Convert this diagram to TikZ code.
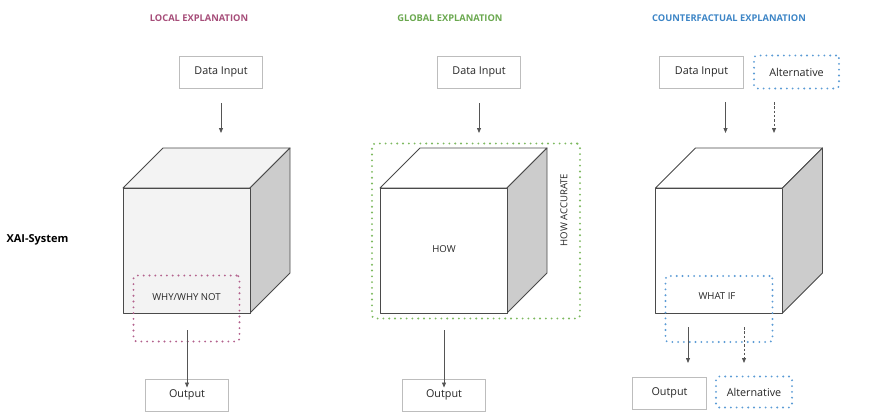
\documentclass[tikz,border=0pt]{standalone}
\usepackage{fontspec}
\setmainfont{Open Sans}
\usetikzlibrary{arrows.meta}
\definecolor{localc}{HTML}{A64D79}
\definecolor{globalc}{HTML}{6AA84F}
\definecolor{cfc}{HTML}{3D85C6}
\definecolor{localdot}{HTML}{B3628D}
\definecolor{globaldot}{HTML}{7DB95F}
\definecolor{cfdot}{HTML}{5B9BD5}
\definecolor{boxline}{HTML}{BDBDBD}
\definecolor{arrowc}{HTML}{555555}
\definecolor{edgec}{HTML}{4A4A4A}
\definecolor{frontgrey}{HTML}{F3F3F3}
\definecolor{sidegrey}{HTML}{CCCCCC}
\tikzset{
  databox/.style={draw=boxline, line width=0.9pt, minimum width=#1, minimum height=32pt, inner sep=0pt, font=\fontsize{10.8}{12}\selectfont, text=black!85},
  databox/.default=83pt,
  dotbox/.style={draw=#1, line width=2.1pt, dash pattern=on 0pt off 5.8pt, line cap=round, rounded corners=3pt},
  title/.style={font=\fontsize{9.3}{11}\selectfont\bfseries},
  lbl/.style={font=\fontsize{9.6}{11}\selectfont, text=black!85},
  arr/.style={draw=arrowc, line width=0.75pt, -{Triangle[length=5pt,width=4pt]}},
  darr/.style={arr, dash pattern=on 2.5pt off 1.8pt},
  face/.style={draw=edgec, line width=0.9pt, line join=round},
}
\newcommand{\mycube}[4]{%
  \filldraw[face, fill=#3] (#1,188) -- ++(40,-40) -- ++(127,0) -- ++(-40,40) -- cycle;
  \filldraw[face, fill=#4] (#1+127,188) -- ++(40,-40) -- ++(0,125) -- ++(-40,40) -- cycle;
  \filldraw[face, fill=#2] (#1,188) rectangle (#1+127,313);
}
\begin{document}
\begin{tikzpicture}[x=1pt,y=-1pt]
\useasboundingbox (0,0) rectangle (874,418);

% titles
\node[title, text=localc] (t1) at (199,18) {LOCAL EXPLANATION};
\node[title, text=globalc] (t2) at (450,18) {GLOBAL EXPLANATION};
\node[title, text=cfc] (t3) at (729,18) {COUNTERFACTUAL EXPLANATION};
\node[anchor=west, font=\fontsize{11}{13}\selectfont\bfseries] (xai) at (3,240) {XAI-System};

% ---- local
\mycube{123}{frontgrey}{frontgrey}{sidegrey}
\node[databox] (in1) at (221,72) {Data Input};
\coordinate (c1top) at (221,133);
\draw[arr] ([yshift=-15pt]in1.south) -- (c1top);
\node[dotbox=localdot, minimum width=106pt, minimum height=66pt] (why) at (186.5,308.5) {};
\node[lbl] (whyt) at (186.5,297) {WHY/WHY NOT};
\node[databox] (out1) at (187,395) {Output};
\coordinate (o1s) at (187,330);
\draw[arr] (o1s) -- ([yshift=-9pt]out1.north);

% ---- global
\mycube{380}{white}{white}{sidegrey}
\node[databox] (in2) at (479,72) {Data Input};
\coordinate (c2top) at (479,133);
\draw[arr] ([yshift=-15pt]in2.south) -- (c2top);
\node[dotbox=globaldot, minimum width=208pt, minimum height=175pt] (howbox) at (476,231) {};
\node[lbl] (how) at (444,249) {HOW};
\node[lbl, rotate=90] (howacc) at (564,210) {HOW ACCURATE};
\node[databox] (out2) at (444,395) {Output};
\coordinate (o2s) at (444,330);
\draw[arr] (o2s) -- ([yshift=-9pt]out2.north);

% ---- counterfactual
\mycube{655.5}{white}{white}{sidegrey}
\node[databox=84pt] (in3) at (701.5,72) {Data Input};
\node[dotbox=cfdot, minimum width=85pt, minimum height=33pt, font=\fontsize{10.8}{12}\selectfont, text=black!85] (alt1) at (796.5,72) {Alternative};
\coordinate (c3a) at (725.5,133);
\coordinate (c3b) at (774,133);
\draw[arr] (c3a |- 0,102) -- (c3a);
\draw[darr] (c3b |- 0,102) -- (c3b);
\node[dotbox=cfdot, minimum width=107pt, minimum height=66pt] (whatif) at (719,309) {};
\node[lbl] (whatift) at (717,296) {WHAT IF};
\node[databox=74pt] (out3) at (669.5,393) {Output};
\node[dotbox=cfdot, minimum width=76pt, minimum height=31pt, font=\fontsize{10.8}{12}\selectfont, text=black!85] (alt2) at (754,392) {Alternative};
\coordinate (o3s) at (688,327);
\coordinate (a3s) at (744,327);
\draw[arr] (o3s) -- (o3s |- 0,363);
\draw[darr] (a3s) -- (a3s |- 0,363);
\end{tikzpicture}
\end{document}
